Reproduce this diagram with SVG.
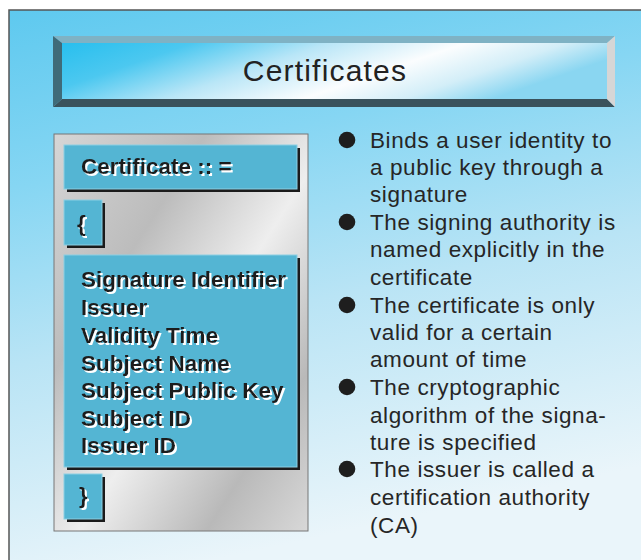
<svg xmlns="http://www.w3.org/2000/svg" width="641" height="560" viewBox="0 0 641 560">
<defs>
<linearGradient id="bg" x1="0" y1="0" x2="0.25" y2="1">
<stop offset="0" stop-color="#5ec9ef"/>
<stop offset="0.3" stop-color="#86d6f3"/>
<stop offset="0.6" stop-color="#b9e4f5"/>
<stop offset="1" stop-color="#eaf5fa"/>
</linearGradient>
<linearGradient id="face" x1="0" y1="0" x2="1" y2="0.3">
<stop offset="0" stop-color="#28bfee"/>
<stop offset="0.22" stop-color="#4cc8f0"/>
<stop offset="0.45" stop-color="#b9e6f7"/>
<stop offset="0.68" stop-color="#fbfdfe"/>
<stop offset="0.85" stop-color="#d3eef8"/>
<stop offset="1" stop-color="#8ad6f1"/>
</linearGradient>
<linearGradient id="metal" x1="0" y1="0" x2="1" y2="1">
<stop offset="0" stop-color="#d6d6d6"/>
<stop offset="0.3" stop-color="#bcbcbc"/>
<stop offset="0.55" stop-color="#eeeeee"/>
<stop offset="0.8" stop-color="#b9b9b9"/>
<stop offset="1" stop-color="#d8d8d8"/>
</linearGradient>
<filter id="ws" x="-5%" y="-20%" width="110%" height="140%">
<feFlood flood-color="#ffffff" result="f"/>
<feComposite in="f" in2="SourceAlpha" operator="in" result="w"/>
<feOffset in="w" dx="1.5" dy="1.5" result="o"/>
<feMerge><feMergeNode in="o"/><feMergeNode in="SourceGraphic"/></feMerge>
</filter>
</defs>
<style>
.box{fill:#54b5d3;stroke:#8ccfe3;stroke-width:1}
.shd{fill:#1b1b1b}
.lt{font-family:"Liberation Sans",Arial,sans-serif;font-weight:bold;font-size:22.5px;fill:#1e1e1e;filter:url(#ws)}
.bt{font-family:"Liberation Sans",Arial,sans-serif;font-size:22.5px;letter-spacing:0.6px;fill:#262626}
.bl{fill:#1e1e1e}
</style>
<rect x="0" y="0" width="641" height="560" fill="#ffffff"/>
<rect x="9" y="10" width="640" height="560" fill="url(#bg)" stroke="#555555" stroke-width="1.5"/>

<g id="title">
<rect x="62" y="43" width="545" height="56" fill="url(#face)"/>
<polygon points="53,36 615,36 607,43 62,43" fill="#7fb2c4"/>
<polygon points="53,36 62,43 62,99 53,107" fill="#3f6b79"/>
<polygon points="53,107 62,99 607,99 615,107" fill="#3a525c"/>
<polygon points="615,36 615,107 607,99 607,43" fill="#d6d6d6"/>
<text x="325" y="81" text-anchor="middle" font-family="'Liberation Sans',Arial,sans-serif" font-size="30" letter-spacing="1.2" fill="#222222">Certificates</text>
</g>

<g id="panel">
<rect x="54" y="134" width="254" height="397" fill="url(#metal)" stroke="#777777" stroke-width="1"/>
</g>

<g id="cert-header">
<rect class="shd" x="67" y="148" width="233" height="44"/>
<rect class="box" x="64" y="145" width="233" height="44"/>
<text class="lt" x="81" y="174">Certificate :: =</text>
</g>

<g id="open-brace">
<rect class="shd" x="67" y="203" width="38" height="45"/>
<rect class="box" x="64" y="200" width="38" height="45"/>
<text class="lt" x="77" y="231">{</text>
</g>

<g id="fields">
<rect class="shd" x="67" y="258" width="233" height="212"/>
<rect class="box" x="64" y="255" width="233" height="212"/>
<text class="lt" x="81" y="287">Signature Identifier</text>
<text class="lt" x="81" y="314.5">Issuer</text>
<text class="lt" x="81" y="342.5">Validity Time</text>
<text class="lt" x="81" y="370.5">Subject Name</text>
<text class="lt" x="81" y="398">Subject Public Key</text>
<text class="lt" x="81" y="425.5">Subject ID</text>
<text class="lt" x="81" y="453">Issuer ID</text>
</g>

<g id="close-brace">
<rect class="shd" x="67" y="477" width="38" height="45"/>
<rect class="box" x="64" y="474" width="38" height="45"/>
<text class="lt" x="79" y="503">}</text>
</g>

<g id="bullets">
<circle class="bl" cx="347" cy="140" r="8.3"/>
<circle class="bl" cx="347" cy="222" r="8.3"/>
<circle class="bl" cx="347" cy="305" r="8.3"/>
<circle class="bl" cx="347" cy="387" r="8.3"/>
<circle class="bl" cx="347" cy="469" r="8.3"/>
<text class="bt" x="370" y="148">Binds a user identity to</text>
<text class="bt" x="370" y="175">a public key through a</text>
<text class="bt" x="370" y="202">signature</text>
<text class="bt" x="370" y="230">The signing authority is</text>
<text class="bt" x="370" y="257">named explicitly in the</text>
<text class="bt" x="370" y="285">certificate</text>
<text class="bt" x="370" y="313">The certificate is only</text>
<text class="bt" x="370" y="340">valid for a certain</text>
<text class="bt" x="370" y="367">amount of time</text>
<text class="bt" x="370" y="395">The cryptographic</text>
<text class="bt" x="370" y="423">algorithm of the signa-</text>
<text class="bt" x="370" y="450">ture is specified</text>
<text class="bt" x="370" y="477">The issuer is called a</text>
<text class="bt" x="370" y="505">certification authority</text>
<text class="bt" x="370" y="533">(CA)</text>
</g>

<g id="connectors"/>
</svg>
